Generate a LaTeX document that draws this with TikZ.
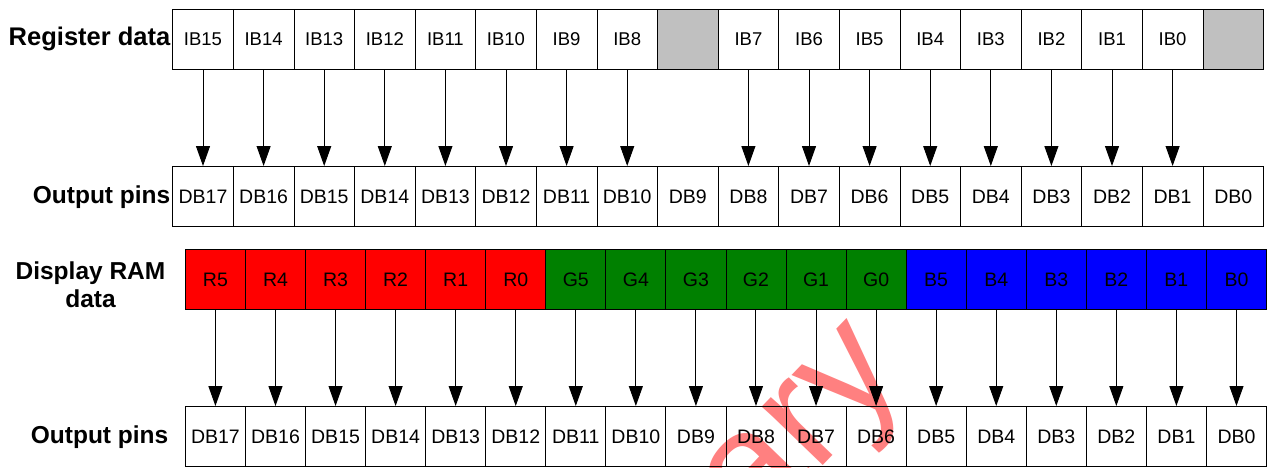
\documentclass[tikz,border=0pt]{standalone}
\usepackage{fontspec}
\setmainfont{Liberation Sans}
\usetikzlibrary{arrows.meta}
\definecolor{cellgray}{RGB}{192,192,192}
\definecolor{ramred}{RGB}{255,0,0}
\definecolor{ramgreen}{RGB}{0,128,0}
\definecolor{ramblue}{RGB}{0,0,255}
\definecolor{wmred}{RGB}{255,128,128}
\begin{document}
\begin{tikzpicture}[x=1pt,y=-1pt,
  topcell/.style={draw=black, line width=0.8pt, minimum width=60.6pt, minimum height=60pt,
    inner sep=0pt, anchor=north west},
  botcell/.style={draw=black, line width=0.8pt, minimum width=60.06pt, minimum height=60pt,
    inner sep=0pt, anchor=north west},
  ibfont/.style={font=\fontsize{18.5}{20}\selectfont},
  dbfont/.style={font=\fontsize{19.5}{21}\selectfont},
  lbl/.style={font=\fontsize{24.5}{28}\selectfont\bfseries, inner sep=0pt},
  arr/.style={-{Triangle[width=14pt,length=20pt]}, line width=1pt},
  wm/.style={text=wmred, font=\fontsize{160}{160}\selectfont, inner sep=0pt}
]
\useasboundingbox (0,0) rectangle (1268,467);
\fill[white] (0,0) rectangle (1268,467);

% watermark
\begin{scope}
\clip (0,0) rectangle (1268,467);
\node[wm, rotate=46, anchor=base east] (wmark) at (908,377) {Preliminary};
\end{scope}

% labels
\node[lbl, anchor=east, font=\fontsize{25.5}{28}\selectfont\bfseries] (lreg) at (170.5,39) {Register data};
\node[lbl, anchor=east] (lout1) at (170.5,197) {Output pins};
\node[lbl, align=center] (lram) at (90.5,285) {Display RAM\\data};
\node[lbl, anchor=east] (lout2) at (168.5,437) {Output pins};

% register data row
\foreach \t/\c [count=\i from 0] in {IB15/white,IB14/white,IB13/white,IB12/white,IB11/white,IB10/white,IB9/white,IB8/white,{}/cellgray,IB7/white,IB6/white,IB5/white,IB4/white,IB3/white,IB2/white,IB1/white,IB0/white,{}/cellgray}
  \node[topcell, ibfont, fill=\c] (ib\i) at ({172.3+60.6*\i},9) {\t};

% output pins row 1
\foreach \t [count=\i from 0] in {DB17,DB16,DB15,DB14,DB13,DB12,DB11,DB10,DB9,DB8,DB7,DB6,DB5,DB4,DB3,DB2,DB1,DB0}
  \node[topcell, dbfont, fill=white] (dba\i) at ({172.3+60.6*\i},166) {\t};

\foreach \i in {0,1,2,3,4,5,6,7,9,10,11,12,13,14,15,16}
  \draw[arr] (ib\i.south) -- (dba\i.north);

% display RAM row
\foreach \t/\c [count=\i from 0] in {R5/ramred,R4/ramred,R3/ramred,R2/ramred,R1/ramred,R0/ramred,G5/ramgreen,G4/ramgreen,G3/ramgreen,G2/ramgreen,G1/ramgreen,G0/ramgreen,B5/ramblue,B4/ramblue,B3/ramblue,B2/ramblue,B1/ramblue,B0/ramblue}
  \node[botcell, dbfont, fill=\c] (ram\i) at ({185+60.06*\i},249) {\t};

% output pins row 2
\foreach \t [count=\i from 0] in {DB17,DB16,DB15,DB14,DB13,DB12,DB11,DB10,DB9,DB8,DB7,DB6,DB5,DB4,DB3,DB2,DB1,DB0}
  \node[botcell, dbfont] (dbb\i) at ({185+60.06*\i},406) {\t};

\foreach \i in {0,...,17}
  \draw[arr] (ram\i.south) -- (dbb\i.north);
\end{tikzpicture}
\end{document}
